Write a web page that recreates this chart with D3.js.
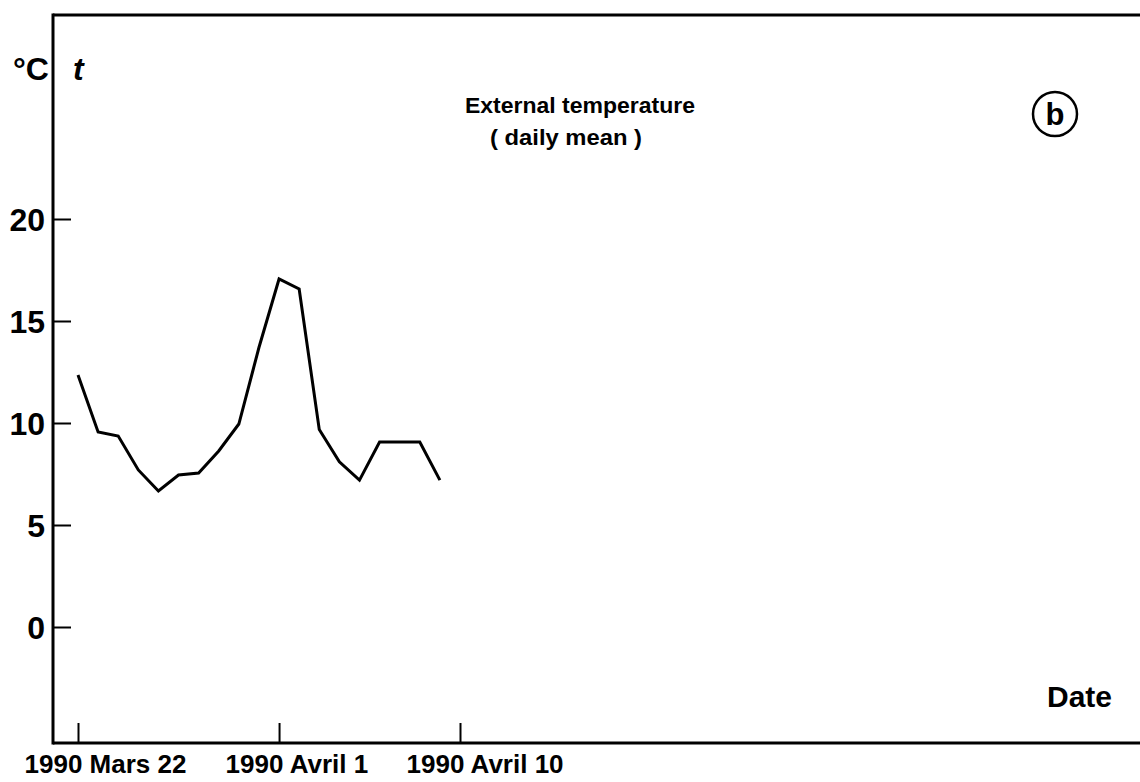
<!DOCTYPE html>
<html>
<head>
<meta charset="utf-8">
<script src="https://cdn.jsdelivr.net/npm/d3@7/dist/d3.min.js"></script>
<style>
  html, body { margin: 0; padding: 0; background: #fff; }
  svg { display: block; }
  text { font-family: "Liberation Sans", Arial, Helvetica, sans-serif; fill: #000; }
</style>
</head>
<body>
<svg id="chart" width="1140" height="782"></svg>
<script>
// ---- data ----
const dates = ["1990-03-22","1990-03-23","1990-03-24","1990-03-25","1990-03-26","1990-03-27",
  "1990-03-28","1990-03-29","1990-03-30","1990-03-31","1990-04-01","1990-04-02","1990-04-03",
  "1990-04-04","1990-04-05","1990-04-06","1990-04-07","1990-04-08","1990-04-09"];
const temps = [12.35, 9.56, 9.36, 7.7, 6.67, 7.45, 7.55, 8.63, 9.95, 13.7, 17.06, 16.57, 9.68,
  8.1, 7.2, 9.07, 9.07, 9.07, 7.2];
const xTickDates = ["1990-03-22", "1990-04-01", "1990-04-10"];
const xTickLabels = ["1990 Mars 22", "1990 Avril 1", "1990 Avril 10"];
const yTickValues = [0, 5, 10, 15, 20];

const parse = d3.utcParse("%Y-%m-%d");
const data = dates.map((d, i) => ({ date: parse(d), t: temps[i] }));

const svg = d3.select("#chart");

// frame geometry
const frameL = 53, frameT = 15, frameB = 743, frameR = 1140;

const x = d3.scaleUtc()
  .domain([parse("1990-03-22"), parse("1990-04-10")])
  .range([78, 460]);
const y = d3.scaleLinear().domain([0, 20]).range([627, 219]);

// frame lines
svg.append("line").attr("x1", frameL).attr("x2", frameR).attr("y1", frameT).attr("y2", frameT)
  .attr("stroke", "#000").attr("stroke-width", 3);
svg.append("line").attr("x1", frameL).attr("x2", frameL).attr("y1", frameT - 1.5).attr("y2", frameB + 1.5)
  .attr("stroke", "#000").attr("stroke-width", 3);
svg.append("line").attr("x1", frameL).attr("x2", frameR).attr("y1", frameB).attr("y2", frameB)
  .attr("stroke", "#000").attr("stroke-width", 3);

// y axis
const yAxis = d3.axisLeft(y).tickValues(yTickValues).tickSize(-18).tickPadding(8)
  .tickFormat(d3.format("d"));
const gy = svg.append("g").attr("transform", `translate(${frameL},0)`).call(yAxis);
gy.select(".domain").remove();
gy.selectAll(".tick line").attr("stroke", "#000").attr("stroke-width", 2);
gy.selectAll(".tick text")
  .attr("font-size", 32).attr("font-weight", "bold")
  .attr("font-family", "Liberation Sans, Arial, sans-serif")
  .attr("dy", "0.36em");

// x axis
const xAxis = d3.axisBottom(x).tickValues(xTickDates.map(parse)).tickSize(-20)
  .tickFormat((d, i) => xTickLabels[i]);
const gx = svg.append("g").attr("transform", `translate(0,${frameB})`).call(xAxis);
gx.select(".domain").remove();
gx.selectAll(".tick line").attr("stroke", "#000").attr("stroke-width", 2);
gx.selectAll(".tick text")
  .attr("font-size", 26).attr("font-weight", "bold")
  .attr("font-family", "Liberation Sans, Arial, sans-serif")
  .attr("text-anchor", "start")
  .attr("x", -54).attr("y", 30).attr("dy", 0);

// line
const line = d3.line().x(d => x(d.date)).y(d => y(d.t));
svg.append("path").datum(data).attr("d", line)
  .attr("fill", "none").attr("stroke", "#000").attr("stroke-width", 3)
  .attr("stroke-linejoin", "miter");

// annotations
svg.append("text").attr("x", 13).attr("y", 80).attr("font-size", 32).attr("font-weight", "bold")
  .text("°C");
svg.append("text").attr("x", 73).attr("y", 80).attr("font-size", 32).attr("font-weight", "bold")
  .attr("font-style", "italic").text("t");
svg.append("text").attr("x", 465).attr("y", 113).attr("font-size", 22).attr("font-weight", "bold")
  .attr("textLength", 230).attr("lengthAdjust", "spacingAndGlyphs").text("External temperature");
svg.append("text").attr("x", 490).attr("y", 145).attr("font-size", 22).attr("font-weight", "bold")
  .attr("textLength", 152).attr("lengthAdjust", "spacingAndGlyphs").text("( daily mean )");
svg.append("circle").attr("cx", 1055).attr("cy", 114).attr("r", 22)
  .attr("fill", "none").attr("stroke", "#000").attr("stroke-width", 2.5);
svg.append("text").attr("x", 1055).attr("y", 125).attr("text-anchor", "middle")
  .attr("font-size", 31).attr("font-weight", "bold").text("b");
svg.append("text").attr("x", 1047).attr("y", 707).attr("font-size", 30).attr("font-weight", "bold")
  .text("Date");
</script>
</body>
</html>
